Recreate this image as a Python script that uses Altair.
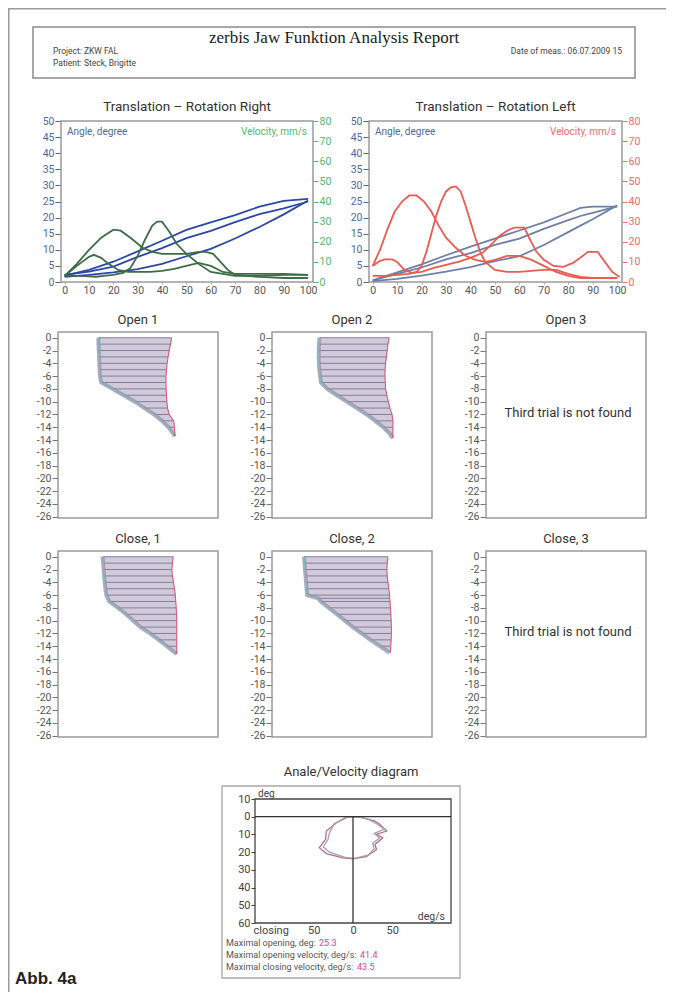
import altair as alt
import pandas as pd

FONT = "Roboto, Liberation Sans, sans-serif"
SERIF = "Liberation Serif, Times New Roman, serif"
BOLD = "Liberation Sans, Arial, sans-serif"

# ---------------- texts ----------------
REPORT_TITLE = "zerbis Jaw Funktion Analysis Report"
PROJECT = "Project: ZKW FAL"
PATIENT = "Patient: Steck, Brigitte"
DATE = "Date of meas.: 06.07.2009 15"
TITLE_RIGHT = "Translation – Rotation Right"
TITLE_LEFT = "Translation – Rotation Left"
ANGLE_LABEL = "Angle, degree"
VEL_LABEL = "Velocity, mm/s"
OPEN_TITLES = ["Open 1", "Open 2", "Open 3"]
CLOSE_TITLES = ["Close, 1", "Close, 2", "Close, 3"]
NOT_FOUND = "Third trial is not found"
AV_TITLE = "Anale/Velocity diagram"
AV_Y_NAME = "deg"
AV_X_NAME = "deg/s"
STAT_LABELS = ["Maximal opening, deg: ", "Maximal opening velocity, deg/s: ",
               "Maximal closing velocity, deg/s: "]
STAT_VALUES = ["25.3", "41.4", "43.5"]
FIG_LABEL = "Abb. 4a"

# ---------------- ticks ----------------
TR_X_TICKS = [0, 10, 20, 30, 40, 50, 60, 70, 80, 90, 100]
ANGLE_TICKS = [0, 5, 10, 15, 20, 25, 30, 35, 40, 45, 50]
VEL_TICKS = [0, 10, 20, 30, 40, 50, 60, 70, 80]
DEPTH_TICKS = [0, -2, -4, -6, -8, -10, -12, -14, -16, -18, -20, -22, -24, -26, -28]
DEPTH_LABELS = ["0", "-2", "-4", "-6", "-8", "-10", "-12", "-14", "-14", "-16",
                "-18", "-20", "-22", "-24", "-26"]
AV_Y_TICKS = [-10, 0, 10, 20, 30, 40, 50, 60]
AV_Y_LABELS = ["10", "0", "10", "20", "30", "40", "50", "60"]
AV_X_TICKS = [-105, -50, 0, 50]
AV_X_LABELS = ["closing", "50", "0", "50"]

# ---------------- Translation - Rotation Right ----------------
R_ANGLE_X = [0, 10, 20, 30, 40, 50, 60, 70, 80, 90, 100]
R_ANGLE_1 = [2.0, 3.8, 6.3, 9.5, 12.8, 16.2, 18.5, 20.8, 23.4, 25.2, 25.8]
R_ANGLE_2 = [2.2, 3.2, 4.8, 7.8, 10.5, 13.6, 15.9, 18.6, 21.1, 22.9, 25.0]
R_ANGLE_3 = [1.6, 2.2, 3.0, 4.0, 5.6, 8.0, 10.3, 13.5, 17.1, 21.0, 25.3]

R_VEL_X_1 = [0, 5, 10, 13, 16, 20, 24, 27, 30, 33, 36, 38, 40, 43, 46, 50, 55, 60, 65, 70, 80, 90, 100]
R_VEL_1 = [3, 3, 2.8, 2.6, 3, 3.5, 4.5, 7, 13, 21, 28, 30, 30, 25, 19, 14, 9, 5, 4, 3, 3, 3.5, 3.5]
R_VEL_X_2 = [0, 5, 10, 15, 20, 23, 27, 32, 36, 40, 45, 50, 55, 58, 61, 64, 67, 70, 75, 80, 90, 100]
R_VEL_2 = [3, 9, 16, 22, 26, 25.5, 22, 17, 15, 14, 14, 14, 15, 15, 14, 10, 6, 3.5, 3, 2.5, 2, 2]
R_VEL_X_3 = [0, 5, 10, 12, 15, 18, 22, 26, 30, 35, 40, 45, 50, 55, 60, 65, 70, 80, 90, 100]
R_VEL_3 = [3, 8, 12.5, 13.5, 12, 9, 6, 5, 5, 5, 5.5, 6.5, 8, 9.5, 8, 5, 4, 4, 4, 3.5]

# ---------------- Translation - Rotation Left ----------------
L_ANGLE_X = [0, 10, 20, 30, 40, 50, 60, 70, 80, 85, 90, 100]
L_ANGLE_1 = [0.5, 3, 5.5, 8.3, 11, 13.5, 16, 18.5, 21.5, 23, 23.4, 23.4]
L_ANGLE_2 = [0.5, 2.5, 4.5, 7, 9, 11.5, 13.5, 16.5, 19.2, 20.5, 21.5, 23.5]
L_ANGLE_3 = [0.3, 1, 2, 3.2, 4.6, 6.5, 8, 11.5, 15.5, 17.5, 19.5, 23.8]

L_VEL_X_1 = [0, 3, 6, 9, 12, 15, 18, 21, 24, 27, 30, 34, 38, 42, 46, 50, 55, 60, 65, 70, 75, 80, 85, 90, 95, 100]
L_VEL_1 = [8, 16, 26, 35, 40, 43, 43, 40, 35, 28, 22, 17, 13, 11, 10, 11, 13, 13, 11, 8, 5, 3, 2, 2, 2, 2]
L_VEL_X_2 = [0, 5, 10, 15, 18, 20, 22, 24, 26, 28, 30, 32, 34, 36, 38, 40, 42, 44, 46, 50, 55, 60, 65, 70, 75, 80, 85, 90, 95, 100]
L_VEL_2 = [3, 3, 3.5, 4, 5, 8, 15, 24, 33, 40, 45, 47, 47.5, 45, 38, 30, 22, 15, 10, 6, 5, 5, 5.5, 6, 6, 4, 2.5, 2, 2, 2]
L_VEL_X_3 = [0, 3, 5, 8, 10, 13, 16, 20, 25, 30, 35, 40, 45, 48, 52, 55, 58, 62, 64, 67, 70, 74, 78, 82, 86, 88, 92, 95, 98, 101]
L_VEL_3 = [8, 10.5, 11.2, 11.2, 10, 6, 4.5, 5, 7, 8.5, 10, 12, 14.5, 18, 23, 25.5, 27, 27, 22, 15, 11, 8, 7.5, 9.5, 13, 15, 15, 10, 5, 2.5]

# ---------------- Open / Close traces (depth, left edge, right edge) ----------------
OPEN1_V = [0, -1, -2, -3, -4, -5, -6, -7, -8, -9, -10, -11, -12, -13, -14, -15, -15.4]
OPEN1_L = [25.2, 25.3, 25.5, 25.7, 25.8, 26, 26.2, 27, 34, 41, 48, 54, 60, 65, 69, 72, 73]
OPEN1_R = [71, 70.3, 69.5, 68.8, 68.2, 67.8, 67.5, 67.5, 67.6, 67.8, 68, 68.5, 69.5, 72.3, 72.8, 73, 73.2]

OPEN2_V = [0, -1, -2, -3, -4, -5, -6, -7, -8, -9, -10, -11, -12, -13, -14, -15, -15.7]
OPEN2_L = [29.6, 29.4, 29.2, 29.2, 29.3, 29.6, 30, 30.6, 34.6, 40.5, 46.7, 53, 59.2, 64.5, 69.5, 73.5, 75.4]
OPEN2_R = [73.3, 72.5, 72, 71.5, 71, 70.7, 70.6, 70.8, 71, 71.8, 72.7, 73.7, 75, 75.6, 75.6, 75.5, 75.6]

CLOSE1_V = [0, -1, -2, -3, -4, -5, -6, -7, -8, -9, -10, -11, -12, -13, -14, -15, -15.2]
CLOSE1_L = [27.9, 28.2, 28.5, 28.8, 29.2, 29.6, 30.2, 32, 37.5, 42.5, 47, 51.5, 57.5, 63, 68, 73, 74.2]
CLOSE1_R = [72, 71.5, 71.2, 71.5, 72.2, 72.8, 73.3, 73.6, 73.9, 74.1, 74.2, 74.2, 74.2, 74.2, 74.2, 74.2, 74.3]

CLOSE2_V = [0, -1, -2, -3, -4, -5, -6, -6.5, -7, -8, -9, -10, -11, -12, -13, -14, -15]
CLOSE2_L = [20, 20.3, 20.6, 21, 21.3, 21.6, 22, 28.8, 30.5, 35.5, 40.5, 45.5, 50.5, 56, 61.5, 67.5, 73.5]
CLOSE2_R = [72.5, 72, 71.8, 72, 72.5, 73, 73.5, 73.6, 73.8, 74, 74.3, 74.5, 74.6, 74.6, 74.5, 74.2, 74]

# ---------------- Angle / velocity loops ----------------
LOOP1_VEL = [-6, -21, -34, -35, -43, -34, -13, 0, 17, 30, 28, 38, 30, 43, 34, 28, 17, 9, -6]
LOOP1_DEG = [0, 3.4, 8.1, 12.8, 17.5, 20.8, 23.2, 23.8, 22.6, 18.5, 15.7, 11.9, 10, 8.1, 4.3, 2.5, 1.1, 0.2, 0]
LOOP2_VEL = [-8, -24, -30, -32, -38, -30, -10, 2, 20, 27, 25, 34, 27, 40, 30, 22, 12, -8]
LOOP2_DEG = [0, 4, 9, 13, 17, 20, 23, 23.5, 21.5, 18, 15, 12, 9.5, 7, 4, 2, 0.5, 0]

# =====================================================================
# Page layout (pixels inside the drawing area, origin = page (8, 8))
W, H = 658, 984
HEADER_BOX = (25, 19, 627, 70)
TR_TOP, TR_BOTTOM = 113, 274
TR_LEFT_X = (53, 305)
TR_RIGHT_X = (361, 614)
PANEL_X = [(50, 210), (264, 424), (478, 638)]
OPEN_Y = (324, 510)
CLOSE_Y = (543, 729)
AV_X = (247, 443)
AV_Y = (791, 915)
AV_BOX = (214, 778, 452, 970)
STAT_X = 218
STAT_VALUE_X = [311, 352, 349]

dummy = pd.DataFrame({"d": [0]})


def series_df(pairs):
    rows = []
    for k, (xs, ys) in enumerate(pairs):
        for i, (a, b) in enumerate(zip(xs, ys)):
            rows.append({"x": a, "y": b, "trial": k, "ord": i})
    return pd.DataFrame(rows)


def txt(text, x, y, size=10, color="#444", align="left", font=FONT, weight="normal"):
    return alt.Chart(dummy).mark_text(
        text=text, font=font, fontSize=size, color=color, align=align,
        baseline="middle", fontWeight=weight).encode(x=alt.value(x), y=alt.value(y))


def box(x0, y0, x1, y1, color="#9a9a9a", width=1.5):
    return alt.Chart(dummy).mark_rect(fillOpacity=0, stroke=color, strokeWidth=width).encode(
        x=alt.value(x0), x2=alt.value(x1), y=alt.value(y0), y2=alt.value(y1))


def tr_layers(title, angle_pairs, vel_pairs, xr, angle_color, angle_axis_color,
              vel_color, vel_axis_color):
    adf = series_df(angle_pairs)
    vdf = series_df(vel_pairs)
    x0, x1 = xr
    xs = alt.Scale(domain=[-1.5, 102], range=[x0, x1], nice=False)
    ya = alt.Scale(domain=[0, 50], range=[TR_BOTTOM, TR_TOP], nice=False)
    yv = alt.Scale(domain=[0, 80], range=[TR_BOTTOM, TR_TOP], nice=False)
    xa = alt.Axis(values=TR_X_TICKS, title=None, grid=False, domain=False, orient="bottom",
                  offset=TR_BOTTOM - H, labelColor="#555", tickColor="#aaa", tickSize=2,
                  labelFontSize=10.5, labelPadding=1, labelFont=FONT)
    angle = alt.Chart(adf).mark_line(color=angle_color, strokeWidth=1.8).encode(
        x=alt.X("x:Q", scale=xs, axis=xa),
        y=alt.Y("y:Q", scale=ya,
                axis=alt.Axis(values=ANGLE_TICKS, title=None, grid=False, domain=False,
                              orient="left", offset=-x0, labelColor=angle_axis_color,
                              tickColor=angle_axis_color, tickSize=6, labelFontSize=10.5,
                              labelFont=FONT, labelPadding=1)),
        detail="trial:N", order="ord:Q")
    vel = alt.Chart(vdf).mark_line(color=vel_color, strokeWidth=1.8).encode(
        x=alt.X("x:Q", scale=xs, axis=None),
        y=alt.Y("y:Q", scale=yv,
                axis=alt.Axis(values=VEL_TICKS, title=None, grid=False, domain=False,
                              orient="right", offset=x1 - W, labelColor=vel_axis_color,
                              tickColor=vel_axis_color, tickSize=5, labelFontSize=10.5,
                              labelFont=FONT, labelPadding=1)),
        detail="trial:N", order="ord:Q")
    return [
        box(x0, TR_TOP, x1, TR_BOTTOM),
        angle, vel,
        txt(ANGLE_LABEL, x0 + 6, TR_TOP + 11, 10, angle_axis_color),
        txt(VEL_LABEL, x1 - 6, TR_TOP + 11, 10, vel_axis_color, "right"),
        txt(title, (x0 + x1) / 2, TR_TOP - 14, 13.5, "#333", "center"),
    ]


def depth_axis(x0):
    expr = "[" + ",".join("'%s'" % s for s in DEPTH_LABELS) + "][round(-datum.value/2)]"
    return alt.Axis(values=DEPTH_TICKS, labelExpr=expr, title=None, grid=False, domain=False,
                    orient="left", offset=-x0, labelColor="#555", tickColor="#777",
                    tickSize=6, labelFontSize=10.5, labelFont=FONT, labelPadding=1)


def depth_layers(title, xr, yr, v=None, left=None, right=None):
    x0, x1 = xr
    y0, y1 = yr
    ys = alt.Scale(domain=[-28.2, 0.9], range=[y1, y0], nice=False)
    xs = alt.Scale(domain=[0, 100], range=[x0, x1], nice=False)
    layers = [box(x0, y0, x1, y1)]
    if v is not None:
        df = pd.DataFrame({"v": v, "xl": left, "xr": right, "ord": list(range(len(v)))})
        base = alt.Chart(df)
        X = lambda f: alt.X(f, scale=xs, axis=None)
        Y = lambda f: alt.Y(f, scale=ys, axis=None)
        layers.append(base.mark_area(orient="horizontal", color="#d0cada").encode(
            y=alt.Y("v:Q", scale=ys, axis=depth_axis(x0)), x=X("xl:Q"), x2="xr:Q"))
        layers.append(base.mark_rule(color="#877e9a", strokeWidth=1).encode(
            y=Y("v:Q"), x=X("xl:Q"), x2="xr:Q"))
        layers.append(base.mark_line(color="#978fa8", strokeWidth=4, opacity=0.75).encode(
            y=Y("v:Q"), x=X("xl:Q"), order="ord:Q"))
        layers.append(base.mark_line(color="#74bcbd", strokeWidth=0.9).encode(
            y=Y("v:Q"), x=X("xl:Q"), order="ord:Q"))
        layers.append(base.mark_line(color="#d65a7c", strokeWidth=1.1).encode(
            y=Y("v:Q"), x=X("xr:Q"), order="ord:Q"))
    else:
        df = pd.DataFrame({"v": [0], "xl": [0]})
        layers.append(alt.Chart(df).mark_point(opacity=0).encode(
            y=alt.Y("v:Q", scale=ys, axis=depth_axis(x0)),
            x=alt.X("xl:Q", scale=xs, axis=None)))
        layers.append(txt(NOT_FOUND, (x0 + x1) / 2 + 2, y0 + 81, 13, "#333", "center"))
    layers.append(txt(title, (x0 + x1) / 2, y0 - 12, 13, "#333", "center"))
    return layers


def av_layers():
    df = series_df([(LOOP1_VEL, LOOP1_DEG), (LOOP2_VEL, LOOP2_DEG)])
    x0, x1 = AV_X
    y0, y1 = AV_Y
    xs = alt.Scale(domain=[-125, 125], range=[x0, x1], nice=False)
    ys = alt.Scale(domain=[-10, 60], range=[y0, y1], nice=False)
    yexpr = "[" + ",".join("'%s'" % s for s in AV_Y_LABELS) + "][round((datum.value+10)/10)]"
    xexpr = ("[" + ",".join("'%s'" % s for s in AV_X_LABELS) + "][indexof(["
             + ",".join(str(v) for v in AV_X_TICKS) + "], datum.value)]")
    loops = alt.Chart(df).mark_line(strokeWidth=1.3).encode(
        x=alt.X("x:Q", scale=xs, axis=alt.Axis(values=AV_X_TICKS, labelExpr=xexpr, title=None,
                                               grid=False, domain=False, ticks=False,
                                               orient="bottom", offset=y1 - H,
                                               labelColor="#444", labelFontSize=11,
                                               labelFont=FONT, labelPadding=1)),
        y=alt.Y("y:Q", scale=ys, axis=alt.Axis(values=AV_Y_TICKS, labelExpr=yexpr, title=None,
                                               grid=False, domain=False, tickColor="#444",
                                               orient="left", offset=-x0,
                                               tickSize=4, labelColor="#444",
                                               labelFontSize=11, labelFont=FONT,
                                               labelPadding=1)),
        color=alt.Color("trial:N", scale=alt.Scale(range=["#b06f8f", "#a9a1a8"]), legend=None),
        detail="trial:N", order="ord:Q")
    sx = alt.Scale(domain=[-125, 125], range=[x0, x1], nice=False)
    hline = alt.Chart(dummy).mark_rule(color="#333", strokeWidth=1.3).encode(
        x=alt.value(x0), x2=alt.value(x1),
        y=alt.Y("zero:Q", scale=ys, axis=None)).transform_calculate(zero="0")
    vline = alt.Chart(dummy).mark_rule(color="#333", strokeWidth=1.3).encode(
        x=alt.X("zero:Q", scale=sx, axis=None),
        y=alt.Y("zero:Q", scale=ys, axis=None),
        y2="bottom:Q").transform_calculate(zero="0", bottom="60")
    layers = [box(*AV_BOX, color="#a8a8a8", width=1.3),
              box(x0, y0, x1, y1, color="#444", width=1.3),
              loops, hline, vline,
              txt(AV_TITLE, (x0 + x1) / 2 - 2, y0 - 27, 13, "#333", "center"),
              txt(AV_Y_NAME, x0 + 3, y0 - 5, 10, "#444"),
              txt(AV_X_NAME, x1 - 6, y1 - 6, 10.5, "#444", "right")]
    for i, (lab, val) in enumerate(zip(STAT_LABELS, STAT_VALUES)):
        layers.append(txt(lab, STAT_X, 935 + 12 * i, 9, "#555"))
        layers.append(txt(val, STAT_VALUE_X[i], 935 + 12 * i, 9, "#e0409a"))
    layers.append(txt(FIG_LABEL, 7, 971, 17, "#222", "left", BOLD, "bold"))
    return layers


layers = []
# page frame
layers.append(box(0.75, 0.75, 660, 1000, color="#9a9a9a", width=1.5))
# header
hx0, hy0, hx1, hy1 = HEADER_BOX
layers += [box(hx0, hy0, hx1, hy1, color="#8a8a8a", width=1.5),
           txt(REPORT_TITLE, 326, hy0 + 11, 17, "#1a1a1a", "center", SERIF),
           txt(PROJECT, hx0 + 20, hy0 + 24, 8.5, "#444"),
           txt(PATIENT, hx0 + 20, hy0 + 36, 8.5, "#444"),
           txt(DATE, hx1 - 13, hy0 + 24, 8.5, "#444", "right")]
# translation - rotation
layers += tr_layers(TITLE_RIGHT,
                    [(R_ANGLE_X, R_ANGLE_1), (R_ANGLE_X, R_ANGLE_2), (R_ANGLE_X, R_ANGLE_3)],
                    [(R_VEL_X_1, R_VEL_1), (R_VEL_X_2, R_VEL_2), (R_VEL_X_3, R_VEL_3)],
                    TR_LEFT_X, "#2c47a6", "#4b6a9e", "#3e6c47", "#4dba6e")
layers += tr_layers(TITLE_LEFT,
                    [(L_ANGLE_X, L_ANGLE_1), (L_ANGLE_X, L_ANGLE_2), (L_ANGLE_X, L_ANGLE_3)],
                    [(L_VEL_X_1, L_VEL_1), (L_VEL_X_2, L_VEL_2), (L_VEL_X_3, L_VEL_3)],
                    TR_RIGHT_X, "#6f7fa8", "#4b6a9e", "#ec5b4f", "#f06a6a")
# open / close panels
layers += depth_layers(OPEN_TITLES[0], PANEL_X[0], OPEN_Y, OPEN1_V, OPEN1_L, OPEN1_R)
layers += depth_layers(OPEN_TITLES[1], PANEL_X[1], OPEN_Y, OPEN2_V, OPEN2_L, OPEN2_R)
layers += depth_layers(OPEN_TITLES[2], PANEL_X[2], OPEN_Y)
layers += depth_layers(CLOSE_TITLES[0], PANEL_X[0], CLOSE_Y, CLOSE1_V, CLOSE1_L, CLOSE1_R)
layers += depth_layers(CLOSE_TITLES[1], PANEL_X[1], CLOSE_Y, CLOSE2_V, CLOSE2_L, CLOSE2_R)
layers += depth_layers(CLOSE_TITLES[2], PANEL_X[2], CLOSE_Y)
# angle / velocity diagram
layers += av_layers()

chart = alt.layer(*layers).resolve_scale(
    x="independent", y="independent", color="independent"
).properties(
    width=W, height=H, padding=0, background="white",
    autosize=alt.AutoSizeParams(type="none")
).configure(font=FONT).configure_view(stroke=None)

chart.save("out.html", embed_options={"renderer": "svg", "actions": False})
